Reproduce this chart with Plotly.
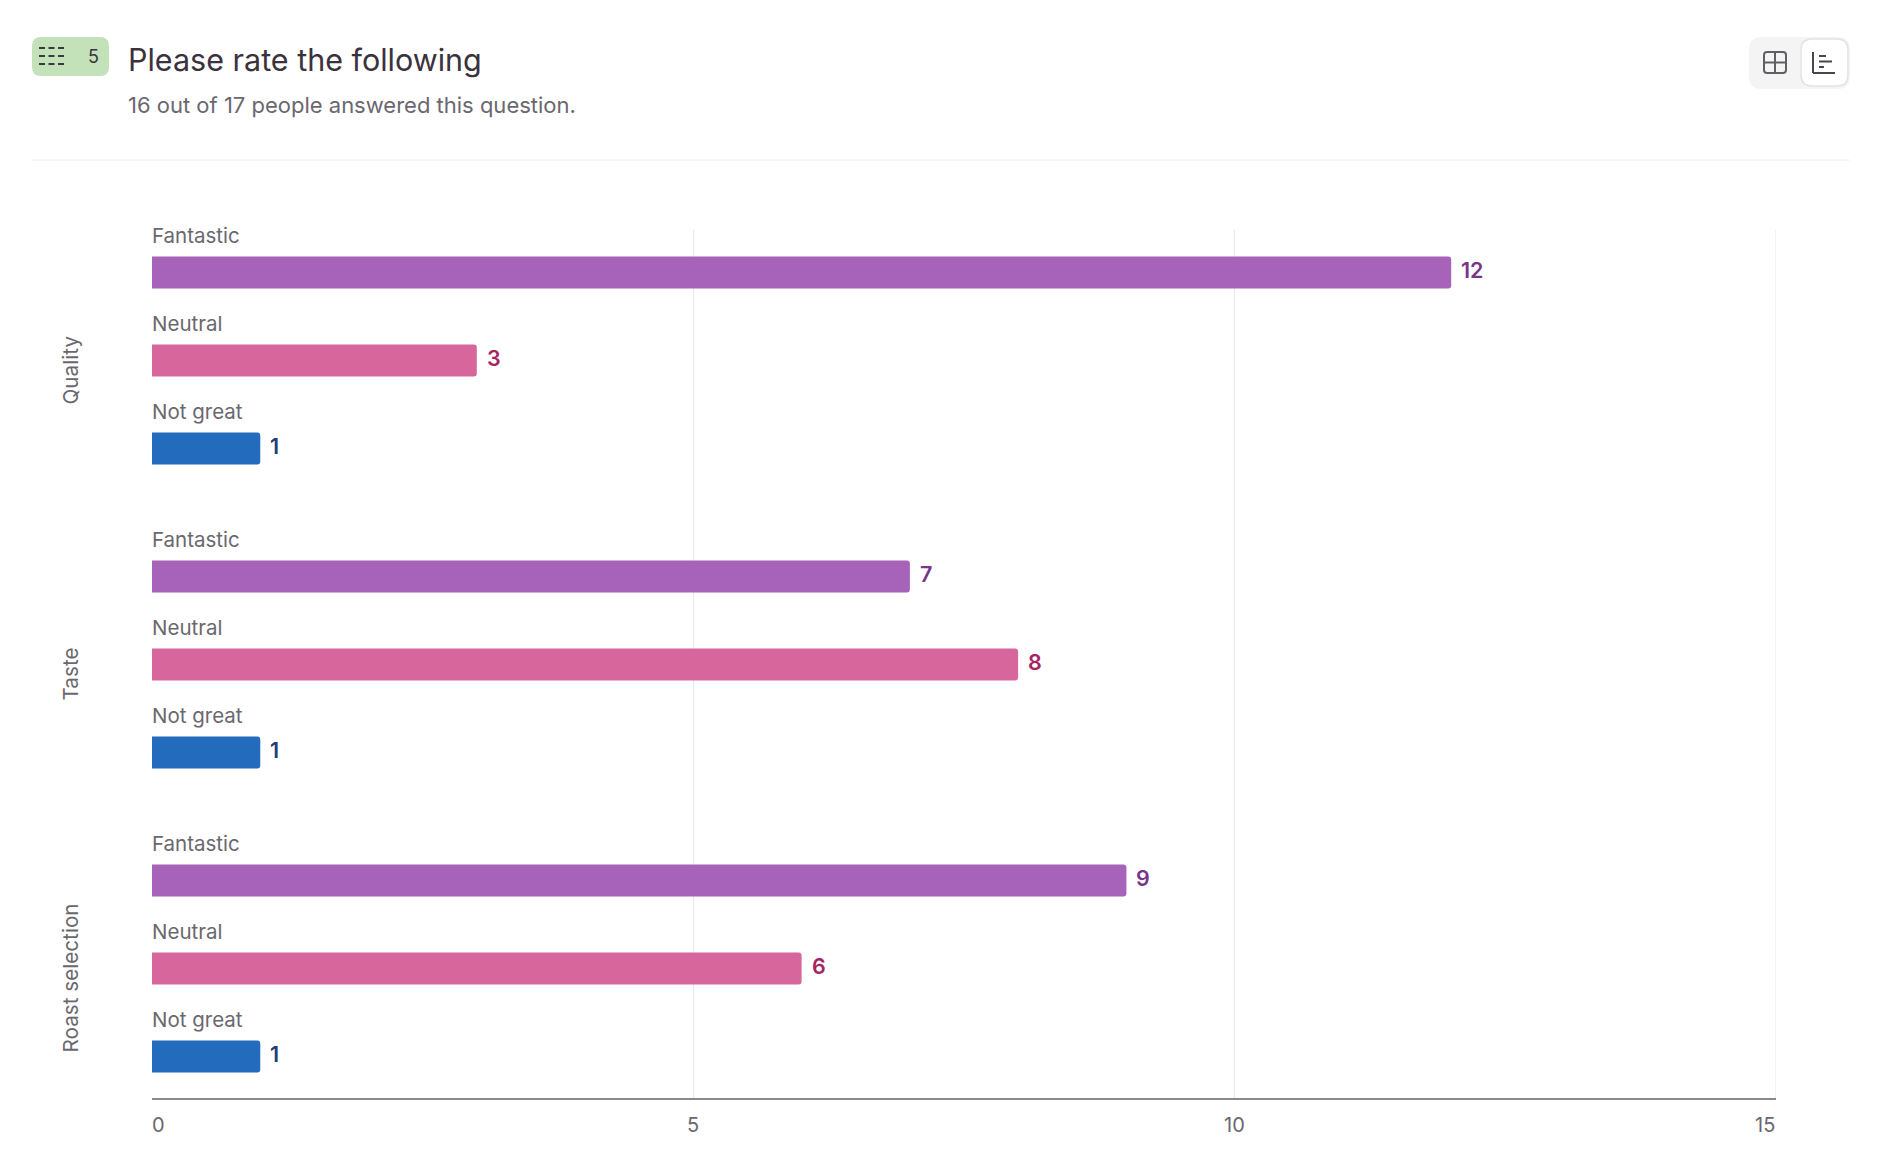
import plotly.graph_objects as go

questions = ["Quality", "Taste", "Roast selection"]
ratings = ["Fantastic", "Neutral", "Not great"]
fantastic = [12, 7, 9]
neutral = [3, 8, 6]
not_great = [1, 1, 1]
x_ticks = [0, 5, 10, 15]

series = [fantastic, neutral, not_great]
bar_colors = ["#A663B9", "#D6669C", "#236BBD"]
value_colors = ["#783589", "#A52463", "#1D3F75"]

FONT = "Inter"
GREY = "#6A676E"
GRID = "#E6E6E8"
W, H = 1882, 1174
L, R, T, B = 152, 106, 230, 76


# header bits are placed in page pixels, turned into paper coords here
def px(x):
    return (x - L) / (W - L - R)


def py(y):
    return 1 - (y - T) / (H - T - B)


def round_rect(x0, y0, x1, y1, r):
    a, b, c, d = px(x0), px(x1), py(y0), py(y1)
    rx = r / (W - L - R)
    ry = r / (H - T - B)
    return (f"M {a + rx} {c} L {b - rx} {c} Q {b} {c} {b} {c - ry} "
            f"L {b} {d + ry} Q {b} {d} {b - rx} {d} L {a + rx} {d} "
            f"Q {a} {d} {a} {d + ry} L {a} {c - ry} Q {a} {c} {a + rx} {c} Z")


def line(x0, y0, x1, y1, color, width=2, dash=None):
    return dict(type="line", xref="paper", yref="paper", x0=px(x0), x1=px(x1), y0=py(y0), y1=py(y1),
                line=dict(color=color, width=width, dash=dash))


def box(x0, y0, x1, y1, r, fill, edge=None, width=0):
    return dict(type="path", xref="paper", yref="paper", path=round_rect(x0, y0, x1, y1, r),
                fillcolor=fill, line=dict(color=edge or fill, width=width))


def label(text, x, y, size=20, color=GREY, anchor="left"):
    return dict(text=text, xref="paper", yref="paper", x=px(x), y=py(y), showarrow=False,
                xanchor=anchor, yanchor="middle", font=dict(family=FONT, size=size, color=color))


fig = go.Figure()
for name, vals, color in zip(ratings, series, bar_colors):
    fig.add_trace(go.Bar(name=name, y=questions, x=vals, orientation="h",
                         marker=dict(color=color, line=dict(width=0), cornerradius=3)))

annotations = []
for i, vals in enumerate(series):
    for q, v in zip(questions, vals):
        shift = -(i - 1) * 88
        annotations.append(dict(text=ratings[i], x=0, y=q, xref="x", yref="y", showarrow=False,
                                xanchor="left", yanchor="middle", yshift=shift + 37, xshift=-2,
                                font=dict(family=FONT, size=20.5, color=GREY)))
        annotations.append(dict(text=str(v), x=v, y=q, xref="x", yref="y", showarrow=False,
                                xanchor="left", yanchor="middle", yshift=shift + 2, xshift=8,
                                font=dict(family=FONT, size=21.5, color=value_colors[i], weight=600)))

for q in questions:
    annotations.append(dict(text=q, x=px(70), y=q, xref="paper", yref="y", showarrow=False, textangle=-90,
                            xanchor="center", yanchor="middle", yshift=-10,
                            font=dict(family=FONT, size=20.7, color=GREY)))

for t in x_ticks:
    anchor, nudge = ("left", -2) if t == x_ticks[0] else ("right", 1) if t == x_ticks[-1] else ("center", 0)
    annotations.append(dict(text=str(t), x=t, y=py(1125), xref="x", yref="paper", showarrow=False,
                            xanchor=anchor, yanchor="middle", xshift=nudge,
                            font=dict(family=FONT, size=20, color=GREY)))

annotations += [
    label("Please rate the following", 126, 59, size=30.5, color="#3A323D"),
    label("16 out of 17 people answered this question.", 126, 105, size=22, color=GREY),
    label("5", 93, 57, size=18, color="#3A323D", anchor="center"),
]

shapes = [
    dict(type="line", xref="x", yref="paper", x0=x_ticks[-1], x1=x_ticks[-1], y0=0, y1=1,
         line=dict(color=GRID, width=1)),
    line(32, 160, 1850, 160, "#F0F0F1", 1),
    box(32, 37, 109, 76, 9, "#C3E2B9"),
    line(39, 48, 64, 48, "#3A3A3E", 2, "6px,3.5px"),
    line(39, 56, 64, 56, "#3A3A3E", 2, "6px,3.5px"),
    line(39, 64, 64, 64, "#3A3A3E", 2, "6px,3.5px"),
    box(1749, 37, 1850, 89, 13, "#F4F4F5"),
    box(1801, 39, 1848, 86, 11, "#FFFFFF", "#E3E3E5", 1.5),
    box(1764, 52, 1786, 73, 3, "rgba(0,0,0,0)", "#625E66", 2),
    line(1775, 52, 1775, 73, "#625E66"),
    line(1764, 62.5, 1786, 62.5, "#625E66"),
    line(1813, 52, 1813, 73, "#4A4450"),
    line(1813, 73, 1835, 73, "#4A4450"),
    line(1819, 56, 1826, 56, "#4A4450"),
    line(1819, 61.5, 1832, 61.5, "#4A4450"),
    line(1819, 67, 1824, 67, "#4A4450"),
]

fig.update_layout(
    width=W, height=H,
    margin=dict(l=L, r=R, t=T, b=B, autoexpand=False),
    barmode="group", bargap=40 / 304, bargroupgap=56 / 88,
    showlegend=False,
    paper_bgcolor="white", plot_bgcolor="white",
    font=dict(family=FONT, size=20, color=GREY),
    annotations=annotations, shapes=shapes,
)
fig.update_xaxes(range=[0, 15], tickvals=x_ticks[1:], showticklabels=False, ticks="",
                 showgrid=True, gridcolor=GRID, gridwidth=1, zeroline=False,
                 showline=True, linecolor="#8B888E", linewidth=1.5)
fig.update_yaxes(categoryorder="array", categoryarray=questions, range=[2.426, -0.4292],
                 showticklabels=False, ticks="", showgrid=False, zeroline=False, showline=False)

# page margin would push everything 8px off
fig.write_html("out.html", config=dict(displayModeBar=False),
               post_script="document.body.style.margin='0';document.documentElement.style.overflow='hidden';")
